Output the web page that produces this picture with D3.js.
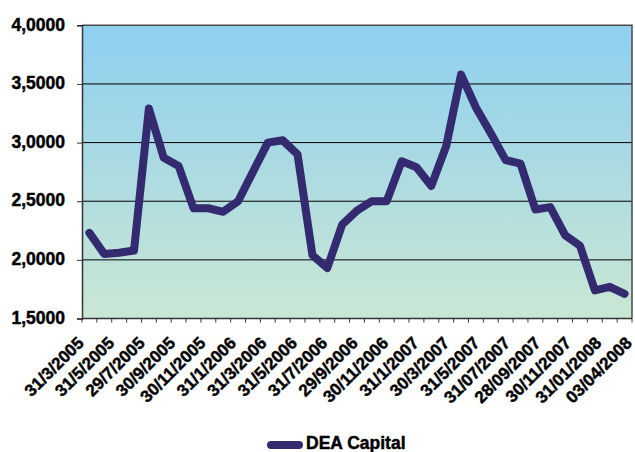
<!DOCTYPE html>
<html>
<head>
<meta charset="utf-8">
<script src="https://cdn.jsdelivr.net/npm/d3@7"></script>
<style>
  html, body { margin: 0; padding: 0; background: #fff; }
  svg { display: block; }
  text { font-family: "Liberation Sans", Arial, sans-serif; font-weight: bold; fill: #000; stroke: #000; stroke-width: 0.45px; }
</style>
</head>
<body>
<svg id="chart" width="635" height="452"></svg>
<script>
const categories = [
  "31/3/2005","29/4/2005","31/5/2005","30/6/2005","29/7/2005","31/8/2005","30/9/2005","31/10/2005",
  "30/11/2005","30/12/2005","31/1/2006","28/2/2006","31/3/2006","28/4/2006","31/5/2006","30/6/2006",
  "31/7/2006","31/8/2006","29/9/2006","31/10/2006","30/11/2006","29/12/2006","31/1/2007","28/2/2007",
  "30/3/2007","30/4/2007","31/5/2007","29/06/2007","31/07/2007","31/08/2007","28/09/2007","31/10/2007",
  "30/11/2007","31/12/2007","31/01/2008","29/02/2008","03/04/2008"
];
const values = [
  2.23, 2.05, 2.06, 2.08, 3.29, 2.87, 2.80, 2.44,
  2.44, 2.41, 2.50, 2.75, 3.00, 3.02, 2.90, 2.04,
  1.93, 2.30, 2.42, 2.50, 2.50, 2.84, 2.79, 2.63,
  2.97, 3.58, 3.30, 3.08, 2.85, 2.82, 2.43, 2.45,
  2.21, 2.12, 1.74, 1.77, 1.71
];
const labelCategories = categories.filter((d, i) => i % 2 === 0);
const yTicks = [1.5, 2.0, 2.5, 3.0, 3.5, 4.0];
const seriesName = "DEA Capital";

(function () {
const svg = d3.select("#chart");
const pLeft = 82, pRight = 632, pTop = 25.3, pBottom = 318.5;

const x = d3.scaleBand().domain(categories).range([pLeft, pRight]).padding(0);
const y = d3.scaleLinear().domain([1.5, 4.0]).range([pBottom, pTop]);
const xLab = d3.scalePoint().domain(labelCategories).range([85, 633]);

const defs = svg.append("defs");
const grad = defs.append("linearGradient").attr("id", "bg").attr("x1", 0).attr("y1", 0).attr("x2", 0).attr("y2", 1);
grad.append("stop").attr("offset", "0%").attr("stop-color", "#8ecff0");
grad.append("stop").attr("offset", "100%").attr("stop-color", "#cae7d4");

svg.append("rect")
  .attr("x", pLeft).attr("y", pTop)
  .attr("width", pRight - pLeft).attr("height", pBottom - pTop)
  .attr("fill", "url(#bg)");

svg.append("g")
  .selectAll("line")
  .data(yTicks.filter(t => t > 1.5 && t < 4.0))
  .join("line")
  .attr("x1", pLeft).attr("x2", pRight)
  .attr("y1", d => y(d)).attr("y2", d => y(d))
  .attr("stroke", "#000").attr("stroke-width", 1);

svg.append("path")
  .attr("d", `M${pLeft},${pTop}H${pRight}V${pBottom}`)
  .attr("fill", "none").attr("stroke", "#4a4a4a").attr("stroke-width", 1.5);

const yAxis = d3.axisLeft(y).tickValues(yTicks).tickSize(5).tickPadding(12)
  .tickFormat(d => d3.format(".4f")(d).replace(".", ","));
const gy = svg.append("g").attr("transform", `translate(${pLeft},0)`).call(yAxis);
gy.select(".domain").attr("stroke", "#333").attr("stroke-width", 1.5);
gy.selectAll(".tick line").attr("stroke", "#333");
gy.selectAll(".tick text")
  .style("font-size", "17.5px")
  .attr("dy", "0.27em");

const tickPositions = d3.range(categories.length + 1).map(i => pLeft + i * x.step());
const gx = svg.append("g");
gx.append("line").attr("x1", pLeft).attr("x2", pRight).attr("y1", pBottom).attr("y2", pBottom)
  .attr("stroke", "#333").attr("stroke-width", 1.5);
gx.selectAll("line.tk").data(tickPositions).join("line").attr("class", "tk")
  .attr("x1", d => d).attr("x2", d => d)
  .attr("y1", pBottom).attr("y2", pBottom + 4)
  .attr("stroke", "#333").attr("stroke-width", 1);

svg.append("g").selectAll("text")
  .data(labelCategories)
  .join("text")
  .attr("text-anchor", "end")
  .attr("transform", d => `translate(${xLab(d)},344) rotate(-45)`)
  .style("font-size", "17px")
  .text(d => d);

const line = d3.line()
  .x((d, i) => x(categories[i]) + x.bandwidth() / 2)
  .y(d => y(d));
svg.append("path")
  .datum(values)
  .attr("d", line)
  .attr("fill", "none")
  .attr("stroke", "#342a6f")
  .attr("stroke-width", 8)
  .attr("stroke-linejoin", "round")
  .attr("stroke-linecap", "round");

const lg = svg.append("g");
lg.append("line").attr("x1", 271).attr("x2", 299).attr("y1", 445).attr("y2", 445)
  .attr("stroke", "#342a6f").attr("stroke-width", 8).attr("stroke-linecap", "round");
lg.append("text").attr("x", 306).attr("y", 449).style("font-size", "17.5px").text(seriesName);
})();
</script>
</body>
</html>
